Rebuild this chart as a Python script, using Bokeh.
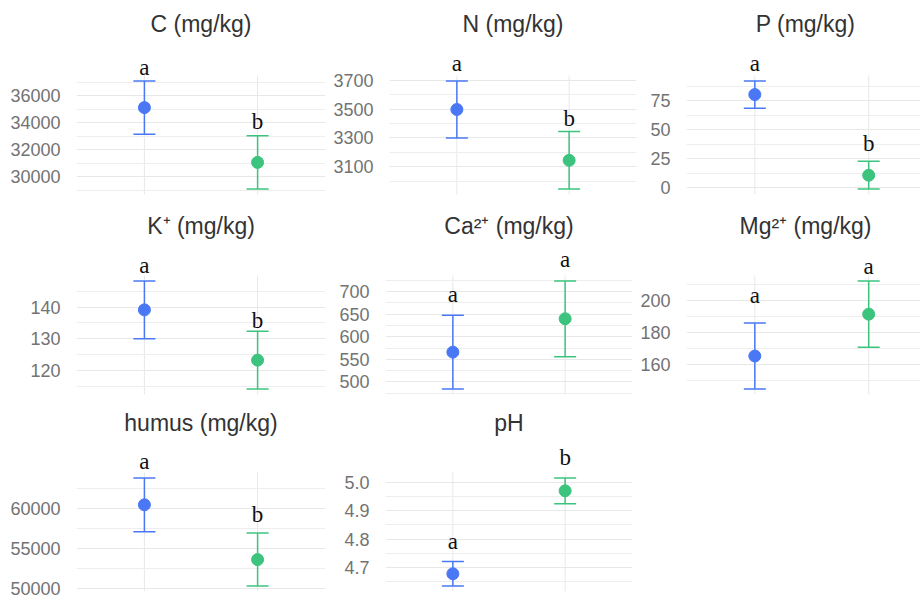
from bokeh.plotting import figure
from bokeh.layouts import column, row
from bokeh.models import Range1d, FixedTicker, Whisker, TeeHead, ColumnDataSource, Label
from bokeh.embed import file_html
from bokeh.resources import INLINE

# ---------------- data ----------------
group_x = [1, 2]
group_colors = ["#4A78F5", "#3CC47E"]

titles = ["C (mg/kg)", "N (mg/kg)", "P (mg/kg)",
          "K\u207a (mg/kg)", "Ca\u00b2\u207a (mg/kg)", "Mg\u00b2\u207a (mg/kg)",
          "humus (mg/kg)", "pH"]

c_mean = [35130, 31070]
c_sd = [1980, 1980]
c_letters = ["a", "b"]
c_letter_y = [37500, 33520]
c_ticks = [30000, 32000, 34000, 36000]
c_tick_labels = ["30000", "32000", "34000", "36000"]

n_mean = [3498, 3144]
n_sd = [199, 200]
n_letters = ["a", "b"]
n_letter_y = [3760, 3380]
n_ticks = [3100, 3300, 3500, 3700]
n_tick_labels = ["3100", "3300", "3500", "3700"]

p_mean = [80.5, 10.7]
p_sd = [11.8, 12.0]
p_letters = ["a", "b"]
p_letter_y = [100.1, 31.6]
p_ticks = [0, 25, 50, 75]
p_tick_labels = ["0", "25", "50", "75"]

k_mean = [139.1, 123.3]
k_sd = [9.1, 9.1]
k_letters = ["a", "b"]
k_letter_y = [150.6, 133.3]
k_ticks = [120, 130, 140]
k_tick_labels = ["120", "130", "140"]

ca_mean = [566, 640]
ca_sd = [82, 84]
ca_letters = ["a", "a"]
ca_letter_y = [675, 754]
ca_ticks = [500, 550, 600, 650, 700]
ca_tick_labels = ["500", "550", "600", "650", "700"]

mg_mean = [165.4, 191.5]
mg_sd = [20.6, 20.7]
mg_letters = ["a", "a"]
mg_letter_y = [198.2, 215.9]
mg_ticks = [160, 180, 200]
mg_tick_labels = ["160", "180", "200"]

humus_mean = [60500, 53590]
humus_sd = [3390, 3340]
humus_letters = ["a", "b"]
humus_letter_y = [64900, 58235]
humus_ticks = [50000, 55000, 60000]
humus_tick_labels = ["50000", "55000", "60000"]

ph_mean = [4.676, 4.972]
ph_sd = [0.044, 0.046]
ph_letters = ["a", "b"]
ph_letter_y = [4.764, 5.062]
ph_ticks = [4.7, 4.8, 4.9, 5.0]
ph_tick_labels = ["4.7", "4.8", "4.9", "5.0"]

panels = [
    (c_mean, c_sd, c_letters, c_letter_y, c_ticks, c_tick_labels),
    (n_mean, n_sd, n_letters, n_letter_y, n_ticks, n_tick_labels),
    (p_mean, p_sd, p_letters, p_letter_y, p_ticks, p_tick_labels),
    (k_mean, k_sd, k_letters, k_letter_y, k_ticks, k_tick_labels),
    (ca_mean, ca_sd, ca_letters, ca_letter_y, ca_ticks, ca_tick_labels),
    (mg_mean, mg_sd, mg_letters, mg_letter_y, mg_ticks, mg_tick_labels),
    (humus_mean, humus_sd, humus_letters, humus_letter_y, humus_ticks, humus_tick_labels),
    (ph_mean, ph_sd, ph_letters, ph_letter_y, ph_ticks, ph_tick_labels),
]

# ---------------- layout ----------------
col_left = [76, 55, 45]
col_frame_w = [249, 247, 238]
col_right = [5, 5, 0]
col_x_end = [2.6, 2.6, 2.49]
row_head = [75, 67, 69]      # space above the data panel (titles, letters)
PANEL_H = 119
row_bottom = [14, 9, 9]
title_raise = [52, 50, 50]
LETTER_LIFT = 8

SANS = "Liberation Sans"
SERIF = "Liberation Serif"
GRID = "#e8e8e8"


def make_panel(i, title, data):
    mean, sd, letters, letter_y, ticks, tick_labels = data
    ci, ri = i % 3, i // 3
    lower = [m - s for m, s in zip(mean, sd)]
    upper = [m + s for m, s in zip(mean, sd)]
    lo, hi = min(lower), max(upper)
    pad = (hi - lo) * 0.05
    panel_lo, panel_hi = lo - pad, hi + pad
    per_px = (panel_hi - panel_lo) / PANEL_H
    view_hi = panel_hi + row_head[ri] * per_px
    p = figure(frame_width=col_frame_w[ci], frame_height=PANEL_H + row_head[ri],
               x_range=Range1d(0.4, col_x_end[ci]), y_range=Range1d(panel_lo, view_hi),
               output_backend="svg", toolbar_location=None,
               min_border_left=col_left[ci], min_border_right=col_right[ci],
               min_border_top=0, min_border_bottom=row_bottom[ri])
    p.outline_line_color = None
    p.background_fill_color = "white"
    p.border_fill_color = "white"

    p.xaxis.visible = False
    p.xgrid.visible = False
    step = ticks[1] - ticks[0]
    minor = [t - step / 2 for t in ticks] + [ticks[-1] + step / 2]
    minor = [m for m in minor if panel_lo < m < panel_hi]
    ticker = FixedTicker(ticks=ticks, minor_ticks=minor)
    p.yaxis.ticker = ticker
    p.yaxis.major_label_overrides = {t: lab for t, lab in zip(ticks, tick_labels)}
    p.yaxis.axis_line_color = None
    p.yaxis.major_tick_line_color = None
    p.yaxis.minor_tick_line_color = None
    p.yaxis.major_label_text_font = SANS
    p.yaxis.major_label_text_font_size = "18px"
    p.yaxis.major_label_text_color = "#737373"
    p.yaxis.major_label_standoff = 10

    p.ygrid.ticker = ticker
    p.ygrid.grid_line_color = GRID
    p.ygrid.grid_line_width = 1
    p.ygrid.minor_grid_line_color = "#eeeeee"
    p.ygrid.minor_grid_line_width = 1

    # vertical grid lines at the two groups, spanning the data panel only
    vg = p.segment(x0=group_x, y0=[panel_lo] * len(group_x), x1=group_x,
                   y1=[panel_hi] * len(group_x), line_color=GRID, line_width=1)
    vg.level = "underlay"

    # panel title, centred over the panel area
    p.add_layout(Label(x=col_frame_w[ci] / 2, y=PANEL_H + title_raise[ri],
                       x_units="screen", y_units="screen", text=title,
                       text_align="center", text_baseline="middle",
                       text_font=SANS, text_font_size="23px", text_color="#333333"))

    for g in range(len(group_x)):
        src = ColumnDataSource(dict(x=[group_x[g]], y=[mean[g]], lower=[lower[g]], upper=[upper[g]]))
        col = group_colors[g]
        w = Whisker(source=src, base="x", lower="lower", upper="upper", dimension="height",
                    line_color=col, line_width=1.5,
                    upper_head=TeeHead(size=22, line_color=col, line_width=1.5),
                    lower_head=TeeHead(size=22, line_color=col, line_width=1.5))
        p.add_layout(w)
        p.scatter("x", "y", source=src, size=12, fill_color=col, line_color=col)
        p.add_layout(Label(x=group_x[g], y=letter_y[g], y_offset=LETTER_LIFT, text=letters[g],
                           text_align="center", text_baseline="alphabetic",
                           text_font=SERIF, text_font_size="23px", text_color="#111111"))
    return p


figs = [make_panel(i, titles[i], panels[i]) for i in range(len(panels))]

rows = [row(*figs[r * 3:(r + 1) * 3], spacing=0) for r in range(3)]
layout = column(*rows, spacing=0)

open("out.html", "w").write(file_html(layout, INLINE))
